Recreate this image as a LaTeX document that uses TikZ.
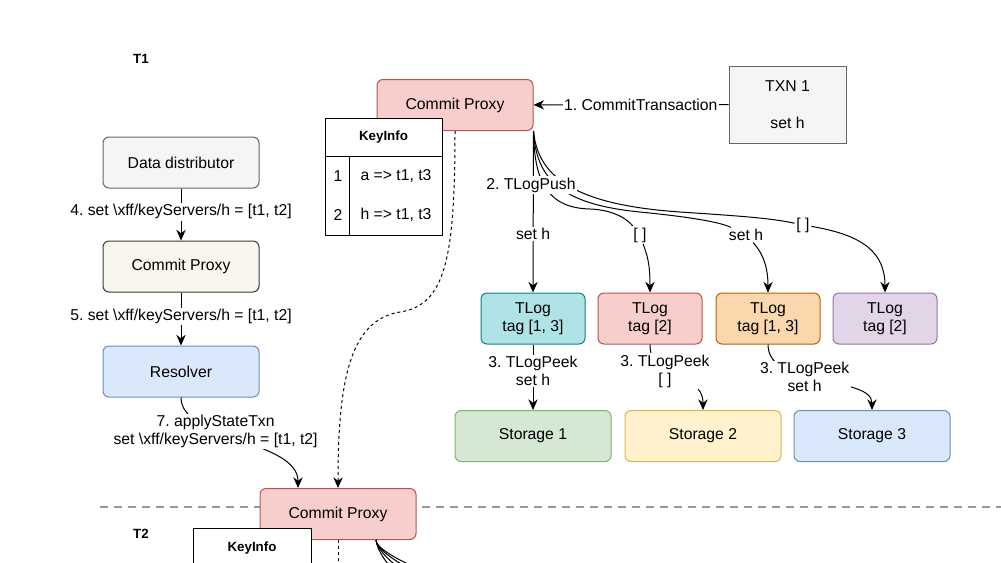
\documentclass[tikz,border=0pt]{standalone}
\usepackage{fontspec}
\setmainfont{Liberation Sans}
\usetikzlibrary{calc,arrows.meta}
\definecolor{redfill}{HTML}{F8CECC}\definecolor{reddraw}{HTML}{B85450}
\definecolor{grayfill}{HTML}{F5F5F5}\definecolor{graydraw}{HTML}{666666}
\definecolor{creamfill}{HTML}{F9F7ED}\definecolor{creamdraw}{HTML}{36393D}
\definecolor{bluefill}{HTML}{DAE8FC}\definecolor{bluedraw}{HTML}{6C8EBF}
\definecolor{cyanfill}{HTML}{B0E3E6}\definecolor{cyandraw}{HTML}{0E8088}
\definecolor{orangefill}{HTML}{FAD7AC}\definecolor{orangedraw}{HTML}{B46504}
\definecolor{purplefill}{HTML}{E1D5E7}\definecolor{purpledraw}{HTML}{9673A6}
\definecolor{greenfill}{HTML}{D5E8D4}\definecolor{greendraw}{HTML}{82B366}
\definecolor{yellowfill}{HTML}{FFF2CC}\definecolor{yellowdraw}{HTML}{D6B656}
\newcommand{\dfont}{\fontsize{11.8}{13.5}\selectfont}
\newcommand{\hfont}{\fontsize{10}{12}\selectfont\bfseries}
\frenchspacing
\tikzset{%
	box/.style args={#1 and #2}{draw=#2, fill=#1, rounded corners=4.5pt,
		minimum width=117pt, minimum height=38.25pt, inner sep=0pt, align=center},
	tlog/.style={box=#1, minimum width=78pt},
	lbl/.style={fill=white, inner sep=1pt, align=center}
}

\begin{document}
\begin{tikzpicture}[x=0.75pt, y=-0.75pt, line width=0.75pt, >={Stealth[length=8pt,width=7pt]},
	every node/.style={font=\dfont},
	hdr/.style={font=\hfont},
	sep/.style={draw=black!40, line width=1.5pt, dash pattern=on 6pt off 4.5pt},
	dots/.style={dash pattern=on 2.25pt off 2.25pt}]
	\useasboundingbox (0, 0) rectangle (1001, 562);
	\clip (0, 0) rectangle (1001, 562);
	\node [hdr] (tone) at (141, 59) {T1};
	\node [hdr] (ttwo) at (141, 534) {T2};
	% T1: commit of TXN 1
	\node [box=redfill and reddraw] (cpa) at (455, 105) {Commit Proxy};
	\node [box=grayfill and graydraw, rounded corners=0pt, minimum width=87.75pt, minimum height=57.75pt] (txn) at (787.5, 104.5) {TXN 1\\[14pt]set h};
	\draw [->] (txn) -- node [lbl, pos=0.45] {1. CommitTransaction} (cpa);
	\node [draw, fill=white, minimum width=87.75pt, minimum height=87.75pt, inner sep=0pt] (kia) at (383.5, 176.5) {};
	\draw ($(kia.north west)+(0, 39)$) -- ($(kia.north east)+(0, 39)$);
	\draw ($(kia.north west)+(25, 39)$) -- ($(kia.south west)+(25, 0)$);
	\node [hdr] (kiahead) at (383.5, 137.5) {KeyInfo};
	\node (kiaone) at (338, 176) {1};
	\node (kiaa) at (396, 176) {a => t1, t3};
	\node (kiatwo) at (338, 215) {2};
	\node (kiah) at (396, 215) {h => t1, t3};
	% left column
	\node [box=grayfill and graydraw] (dd) at (181, 162.5) {Data distributor};
	\node [box=creamfill and creamdraw] (cpl) at (181, 266.5) {Commit Proxy};
	\node [box=bluefill and bluedraw] (res) at (181, 371.5) {Resolver};
	\draw [->] (dd) -- node [lbl, pos=0.45] {4. set \textbackslash xff/keyServers/h = [t1, t2]} (cpl);
	\draw [->] (cpl) -- node [lbl, pos=0.45] {5. set \textbackslash xff/keyServers/h = [t1, t2]} (res);
	% T2
	\draw [sep] (100, 507) -- (1001, 507);
	\node [box=redfill and reddraw] (cpb) at (338, 514) {Commit Proxy};
	\draw [->] (res.south) .. controls +(0, 43) and +(0, -48) .. node [lbl, pos=0.36] {7. applyStateTxn\\set \textbackslash xff/keyServers/h = [t1, t2]} ($(cpb.north)+(-40, 0)$);
	\draw [->, dots] (cpa.south) .. controls (455, 260) and (445, 305) .. (400, 312) .. controls (350, 320) and (338, 380) .. (cpb.north);
	\coordinate (cpbout) at (338, 600);
	\draw [dots] (cpb.south) -- (cpbout);
	\foreach \dx/\dy in {30/40, 38/38, 46/36, 54/35}
		\draw ($(cpb.south)+(38, 0)$) .. controls +(1, 12) and +(-14, -8) .. ++(\dx, \dy);
	\node [draw, fill=white, minimum width=88.5pt, minimum height=60pt, anchor=north west] (kib) at (193, 528) {};
	\node [hdr] (kibhead) at (252, 548) {KeyInfo};
	% tlogs and storage servers
	\node [tlog=cyanfill and cyandraw] (tla) at (533, 318.5) {TLog\\tag [1, 3]};
	\node [tlog=redfill and reddraw] (tlb) at (650, 318.5) {TLog\\tag [2]};
	\node [tlog=orangefill and orangedraw] (tlc) at (768, 318.5) {TLog\\tag [1, 3]};
	\node [tlog=purplefill and purpledraw] (tld) at (885, 318.5) {TLog\\tag [2]};
	\node [box=greenfill and greendraw] (sta) at (533, 436) {Storage 1};
	\node [box=yellowfill and yellowdraw] (stb) at (703, 436) {Storage 2};
	\node [box=bluefill and bluedraw] (stc) at (872, 436) {Storage 3};
	\node [lbl] (pb) at (640, 235) {[ ]};
	\node [lbl] (pc) at (746, 235) {set h};
	\node [lbl] (pd) at (803, 225) {[ ]};
	\draw [->] (cpa.south east) -- node [lbl, pos=0.64] {set h} (tla.north);
	\draw (cpa.south east) .. controls (534, 185) and (550, 208) .. (590, 209) .. controls (615, 210) and (628, 220) .. (pb);
	\draw (cpa.south east) .. controls (536, 185) and (570, 205) .. (640, 212) .. controls (690, 217) and (720, 222) .. (pc);
	\draw (cpa.south east) .. controls (538, 180) and (580, 205) .. (680, 212) .. controls (740, 216) and (770, 218) .. (pd);
	\draw [->] (pb) .. controls +(7, 20) and +(0, -30) .. (tlb.north);
	\draw [->] (pc) .. controls +(14, 15) and +(0, -30) .. (tlc.north);
	\draw [->] (pd) .. controls +(60, 10) and +(0, -40) .. (tld.north);
	\node [lbl] (push) at (531, 185) {2. TLogPush};
	\draw [->] (tla) -- node [lbl, pos=0.4] {3. TLogPeek\\set h} (sta);
	\draw [->] (tlb.south) .. controls +(0, 40) and +(0, -40) .. node [lbl, pos=0.35] {3. TLogPeek\\{[ ]}} (stb.north);
	\draw [->] (tlc.south) .. controls +(0, 45) and +(0, -35) .. node [lbl, pos=0.4] {3. TLogPeek\\set h} (stc.north);
\end{tikzpicture}
\end{document}
